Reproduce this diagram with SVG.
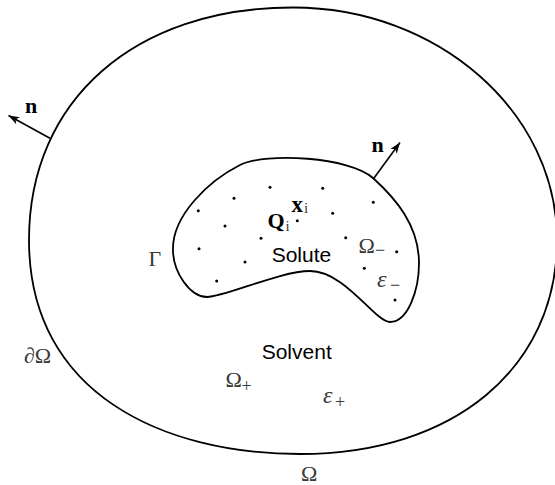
<svg xmlns="http://www.w3.org/2000/svg" width="555" height="485" viewBox="0 0 555 485">
<style>
.bd{fill:none;stroke:#000;stroke-width:1.8}
.ar{stroke:#000;stroke-width:1.6;fill:none}
.bf{font-family:"Liberation Serif",serif;font-weight:bold;fill:#000}
.gr{font-family:"Liberation Serif",serif;fill:#3a3a3a}
.it{font-style:italic}
.ss{font-family:"Liberation Sans",Arial,sans-serif;font-size:21px;fill:#000}
.dot{fill:#000}
</style>
<defs>
<marker id="ah" markerUnits="userSpaceOnUse" markerWidth="12" markerHeight="9" refX="11" refY="4" orient="auto">
<path d="M0,0 L11,4 L0,8 L3,4 z" fill="#000"/>
</marker>
</defs>
<g id="solvent-domain">
<path class="bd" d="M293,7.5 C135,7.5 29,100 29,240 C29,395 165,454 300,454 C454,454 557,368 557,240 C557,112 438,7.5 293,7.5 Z"/>
</g>
<g id="solute-domain">
<path class="bd" d="M173,250 C172,215 210,180 240,165 C266,152 350,157 373,178 C395,198 419,225 419,263 C419,290 408,322 390,322 C375,322 345,271 310,271 C280,271 225,297 207,297 C190,297 173,272 173,250 Z"/>
</g>
<g id="connectors">
<line class="ar" x1="50" y1="138.3" x2="8.5" y2="115.5" marker-end="url(#ah)"/>
<line class="ar" x1="373.3" y1="179" x2="400" y2="142.5" marker-end="url(#ah)"/>
</g>
<g id="charges">
<circle class="dot" cx="270" cy="187.3" r="1.5"/>
<circle class="dot" cx="322.7" cy="188.3" r="1.5"/>
<circle class="dot" cx="234" cy="198.3" r="1.5"/>
<circle class="dot" cx="373.3" cy="202.3" r="1.5"/>
<circle class="dot" cx="198.3" cy="210.7" r="1.5"/>
<circle class="dot" cx="332.7" cy="213.3" r="1.5"/>
<circle class="dot" cx="225" cy="226" r="1.5"/>
<circle class="dot" cx="297.3" cy="220.7" r="1.5"/>
<circle class="dot" cx="261" cy="238.3" r="1.5"/>
<circle class="dot" cx="345.7" cy="237.7" r="1.5"/>
<circle class="dot" cx="199" cy="248.7" r="1.5"/>
<circle class="dot" cx="396.7" cy="251.7" r="1.5"/>
<circle class="dot" cx="245" cy="262" r="1.5"/>
<circle class="dot" cx="364.3" cy="268.3" r="1.5"/>
<circle class="dot" cx="216.7" cy="281" r="1.5"/>
<circle class="dot" cx="395" cy="300" r="1.5"/>
</g>
<g id="labels">
<text class="bf" x="25" y="113" font-size="22">n</text>
<text class="bf" x="371.5" y="152" font-size="22">n</text>
<text class="bf" x="291.5" y="211.7" font-size="23">x</text>
<text class="gr" x="304" y="212.7" font-size="15" fill="#000">i</text>
<text class="bf" x="267.5" y="228" font-size="22">Q</text>
<text class="gr" x="285.5" y="231" font-size="15">i</text>
<text class="ss" x="271.7" y="261.7">Solute</text>
<text class="ss" x="261.7" y="359.3">Solvent</text>
<text class="gr" x="358.5" y="252.7" font-size="22">Ω</text>
<text class="gr" x="375" y="256" font-size="18">−</text>
<text class="gr it" x="377" y="286.7" font-size="24">ε</text>
<text class="gr" x="390" y="291" font-size="18">−</text>
<text class="gr" x="148.5" y="266" font-size="22">Γ</text>
<text class="gr" x="24" y="363" font-size="22">∂Ω</text>
<text class="gr" x="225.5" y="386.7" font-size="22">Ω</text>
<text class="gr" x="241.5" y="391.5" font-size="18">+</text>
<text class="gr it" x="323" y="403.3" font-size="24">ε</text>
<text class="gr" x="335" y="407.5" font-size="18">+</text>
<text class="gr" x="301" y="481" font-size="22">Ω</text>
</g>
</svg>
